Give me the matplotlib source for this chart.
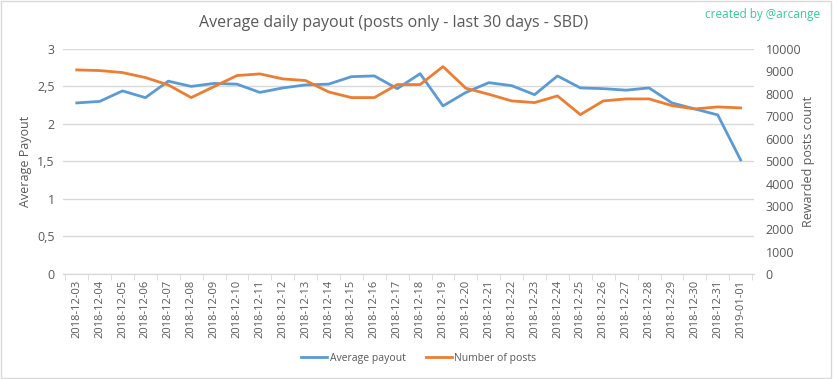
import matplotlib.pyplot as plt
from matplotlib.ticker import FuncFormatter, MultipleLocator
from matplotlib.patches import Rectangle

plt.rcParams['font.family'] = ['Open Sans', 'DejaVu Sans']

dates = ["2018-12-03", "2018-12-04", "2018-12-05", "2018-12-06", "2018-12-07",
         "2018-12-08", "2018-12-09", "2018-12-10", "2018-12-11", "2018-12-12",
         "2018-12-13", "2018-12-14", "2018-12-15", "2018-12-16", "2018-12-17",
         "2018-12-18", "2018-12-19", "2018-12-20", "2018-12-21", "2018-12-22",
         "2018-12-23", "2018-12-24", "2018-12-25", "2018-12-26", "2018-12-27",
         "2018-12-28", "2018-12-29", "2018-12-30", "2018-12-31", "2019-01-01"]

avg_payout = [2.28, 2.30, 2.44, 2.35, 2.57, 2.50, 2.54, 2.53, 2.42, 2.48,
              2.52, 2.53, 2.63, 2.64, 2.47, 2.67, 2.24, 2.42, 2.55, 2.51,
              2.39, 2.64, 2.48, 2.47, 2.45, 2.48, 2.28, 2.20, 2.12, 1.52]

num_posts = [9067, 9037, 8948, 8726, 8400, 7837, 8326, 8815, 8889, 8667,
             8593, 8089, 7837, 7837, 8415, 8415, 9215, 8252, 7985, 7689,
             7615, 7911, 7081, 7689, 7778, 7778, 7481, 7333, 7422, 7378]

blue = '#5B9BD5'
orange = '#ED7D31'
txt = '#595959'
grid = '#D9D9D9'

fig = plt.figure(figsize=(8.33, 3.79), dpi=100)
ax1 = fig.add_axes([0.0756, 0.277, 0.830, 0.594])
ax2 = ax1.twinx()

x = list(range(len(dates)))
l1, = ax1.plot(x, avg_payout, color=blue, lw=2, label='Average payout')
l2, = ax2.plot(x, num_posts, color=orange, lw=2, label='Number of posts')

ax1.set_ylim(0, 3)
ax2.set_ylim(0, 10000)
ax1.set_xlim(-0.6, len(dates) - 0.4)
ax1.yaxis.set_major_locator(MultipleLocator(0.5))
ax2.yaxis.set_major_locator(MultipleLocator(1000))
ax1.yaxis.set_major_formatter(FuncFormatter(lambda v, p: ('%g' % v).replace('.', ',')))

ax1.set_xticks(x)
ax1.set_xticklabels(dates, rotation=90, fontsize=8, color=txt)
ax1.set_xticks([i + 0.5 for i in range(-1, len(dates))], minor=True)
ax1.tick_params(axis='x', which='major', length=0, pad=4)
ax1.tick_params(axis='x', which='minor', length=4, color=grid)

ax1.grid(axis='y', color=grid, lw=1)
ax1.set_axisbelow(True)
for ax in (ax1, ax2):
    for s in ['top', 'left', 'right']:
        ax.spines[s].set_visible(False)
    ax.spines['bottom'].set_color(grid)
    ax.tick_params(axis='y', length=0, labelsize=9, labelcolor=txt, pad=8)
ax1.tick_params(axis='y', pad=6)

ax1.set_ylabel('Average Payout', fontsize=9, color=txt)
ax2.set_ylabel('Rewarded posts count', fontsize=9, color=txt)
ax1.yaxis.set_label_coords(-0.045, 0.5)
ax2.yaxis.set_label_coords(1.069, 0.5)

fig.text(0.472, 0.94, 'Average daily payout (posts only - last 30 days - SBD)',
         ha='center', va='center', fontsize=11.5, color=txt)
fig.text(0.985, 0.962, 'created by @arcange', ha='right', va='center',
         fontsize=8.5, color='#33CC99')

fig.legend(handles=[l1, l2], loc='center', bbox_to_anchor=(0.503, 0.055), ncol=2,
           frameon=False, fontsize=7.5, labelcolor=txt, handlelength=2.5,
           columnspacing=2.0, handletextpad=0.2)

fig.patches.append(Rectangle((0.001, 0.002), 0.997, 0.995, transform=fig.transFigure,
                             fill=False, edgecolor='#D9D9D9', lw=1))

fig.savefig('out.png', dpi=100)
